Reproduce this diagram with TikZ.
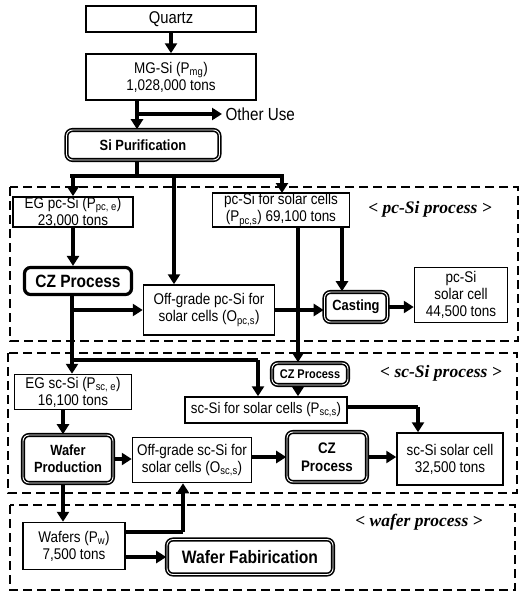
\documentclass[tikz,border=0pt]{standalone}
\usepackage{fontspec}
\setmainfont{Liberation Sans}[FakeStretch=0.87]
\newfontfamily\labfont{Liberation Serif}
\usetikzlibrary{calc,arrows.meta}

\begin{document}
\begin{tikzpicture}[x=1pt, y=-1pt,
	box/.style={draw, line width=1.5pt, inner sep=0pt, align=center, font=\fontsize{15.5}{17}\selectfont},
	proc/.style={draw, rounded corners=6pt, double, double distance=0.9pt, line width=1.6pt, inner sep=0pt, align=center, font=\fontsize{14.8}{17}\selectfont\bfseries},
	flow/.style={line width=3.4pt, -{Triangle[length=10pt, width=12pt]}},
	link/.style={line width=3.4pt},
	grp/.style={line width=2.4pt, dash pattern=on 9pt off 5pt},
	lab/.style={font=\fontsize{17.5}{19}\selectfont\labfont\bfseries\itshape}]
			\useasboundingbox (0,0) rectangle (530,600);

			% process groups
			\draw[grp] (10,187) rectangle (518,341);
			\draw[grp] (8,353) rectangle (517,493);
			\draw[grp] (10,505) rectangle (515,590);
			\node[lab] (pclab) at (430,209) {< pc-Si process >};
			\node[lab] (sclab) at (441,373) {< sc-Si process >};
			\node[lab] (wflab) at (419,522) {< wafer process >};

			% raw material
			\node[box, minimum width=170pt, minimum height=26pt, font=\fontsize{17}{18}\selectfont] (quartz) at (171,19) {Quartz};
			\node[box, minimum width=170pt, minimum height=46pt] (mgsi) at (171,77) {MG-Si (P\textsubscript{mg})\\1,028,000 tons};
			\node[anchor=west, font=\fontsize{17.5}{18}\selectfont] (other) at (222,114) {Other Use};
			\node[proc, minimum width=153pt, minimum height=30pt] (purif) at (143,145) {Si Purification};

			% pc-Si
			\node[box, minimum width=120pt, minimum height=28pt] (egpc) at (73,212) {EG pc-Si (P\textsubscript{pc, e})\\23,000 tons};
			\node[box, minimum width=137pt, minimum height=34pt] (pcsol) at (281,210) {pc-Si for solar cells\\(P\textsubscript{pc,s}) 69,100 tons};
			\node[draw, rounded corners=6pt, line width=3.2pt, inner sep=0pt, minimum width=107pt, minimum height=27pt, font=\fontsize{17.8}{19}\selectfont\bfseries] (czpc) at (78,281) {CZ Process};
			\node[box, minimum width=131pt, minimum height=50pt] (offpc) at (209,310) {Off-grade pc-Si for\\solar cells (O\textsubscript{pc,s})};
			\node[proc, minimum width=63pt, minimum height=30pt] (cast) at (356,307) {Casting};
			\node[box, minimum width=93pt, minimum height=55pt] (pccell) at (461,295) {pc-Si\\solar cell\\44,500 tons};

			% sc-Si
			\node[box, minimum width=117pt, minimum height=35pt] (egsc) at (73,392) {EG sc-Si (P\textsubscript{sc, e})\\16,100 tons};
			\node[proc, minimum width=76pt, minimum height=22pt, font=\fontsize{12.6}{14}\selectfont\bfseries] (czs) at (310,374) {CZ Process};
			\node[box, minimum width=162pt, minimum height=26pt, font=\fontsize{15.3}{17}\selectfont] (scsol) at (266,410) {sc-Si for solar cells (P\textsubscript{sc,s})};
			\node[proc, minimum width=90pt, minimum height=48pt] (wprod) at (68,459) {Wafer\\Production};
			\node[box, minimum width=119pt, minimum height=45pt] (offsc) at (192,460) {Off-grade sc-Si for\\solar cells (O\textsubscript{sc,s})};
			\node[proc, minimum width=80pt, minimum height=50pt, font=\fontsize{15.3}{18}\selectfont\bfseries] (czsc) at (327,457) {CZ\\Process};
			\node[box, minimum width=106pt, minimum height=52pt] (sccell) at (450,459) {sc-Si solar cell\\32,500 tons};

			% wafer
			\node[box, minimum width=102pt, minimum height=47pt] (wafers) at (74,546) {Wafers (P\textsubscript{w})\\7,500 tons};
			\node[proc, minimum width=166pt, minimum height=35pt, font=\fontsize{18}{19}\selectfont\bfseries] (wfab) at (250,557) {Wafer Fabirication};

			% branch points
			\coordinate (m1) at (137,114);
			\coordinate (s1) at (137,176);
			\coordinate (s2) at (174,176);
			\coordinate (s3) at (72,360);
			\coordinate (s4) at (258,360);
			\coordinate (c1) at (342,0);
			\coordinate (c2) at (298,0);
			\coordinate (c4) at (418,407);
			\coordinate (c5) at (63,0);
			\coordinate (c6) at (183,532);

			\draw[flow] (quartz) -- (mgsi);
			\draw[flow] (m1 |- mgsi.south) -- (m1 |- purif.north);
			\draw[flow] (m1) -- (other.west);
			\draw[link] (s1 |- purif.south) -- (s1);
			\draw[link] (70,176) -- (284,176);
			\draw[flow] (egpc.north |- s1) -- (egpc.north);
			\draw[flow] (s2) -- (s2 |- offpc.north);
			\draw[flow] (282,176) -- (282,193);

			\draw[flow] (egpc.south) -- (egpc.south |- czpc.north);
			\draw[link] (s3 |- czpc.south) -- (s3);
			\draw[flow] (s3 |- offpc.west) -- (offpc.west);
			\draw[flow] (offpc.east) -- (offpc.east -| cast.west);
			\draw[flow] (c1 |- pcsol.south) -- (c1 |- cast.north);
			\draw[flow] (cast.east) -- (cast.east -| pccell.west);
			\draw[flow] (c2 |- pcsol.south) -- (c2 |- czs.north);

			\draw[flow] (s3) -- (s3 |- egsc.north);
			\draw[link] (70,360) -- (s4);
			\draw[flow] (s4) -- (s4 |- scsol.north);
			\draw[flow] (c2 |- czs.south) -- (c2 |- scsol.north);
			\draw[link] (c4 -| scsol.east) -- (c4);
			\draw[flow] (c4) -- (c4 |- sccell.north);
			\draw[flow] (c5 |- egsc.south) -- (c5 |- wprod.north);
			\draw[flow] (wprod.east) -- (wprod.east -| offsc.west);
			\draw[flow] (offsc.east |- czsc.west) -- (czsc.west);
			\draw[flow] (czsc.east) -- (czsc.east -| sccell.west);

			\draw[flow] (c5 |- wprod.south) -- (c5 |- wafers.north);
			\draw[link] (c6 -| wafers.east) -- (c6);
			\draw[flow] (c6) -- (c6 |- offsc.south);
			\draw[flow] (wafers.east |- wfab.west) -- (wfab.west);
		\end{tikzpicture}
\end{document}
